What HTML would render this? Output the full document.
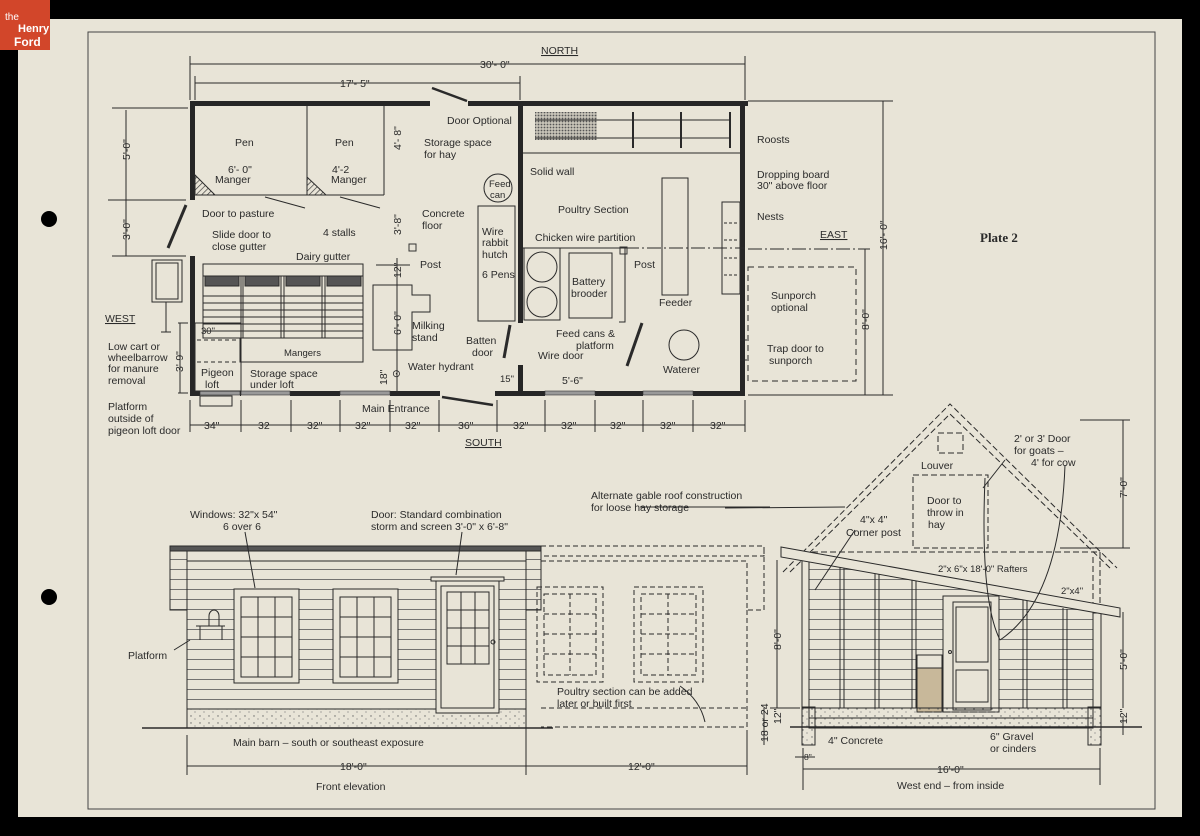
<!DOCTYPE html>
<html><head><meta charset="utf-8"><style>
html,body{margin:0;padding:0;background:#000;}
svg{display:block;}
text{font-family:"Liberation Sans",sans-serif;font-size:10.5px;fill:#2a2a2a;}
</style></head><body>
<svg width="1200" height="836" viewBox="0 0 1200 836" xmlns="http://www.w3.org/2000/svg">
<defs>
<pattern id="hat" width="4" height="4" patternUnits="userSpaceOnUse" patternTransform="rotate(45)"><line x1="0" y1="0" x2="0" y2="4" stroke="#333" stroke-width="1.3"/></pattern>
<pattern id="xh" width="3" height="3" patternUnits="userSpaceOnUse"><rect width="3" height="3" fill="#c8c4b8"/><circle cx="1.5" cy="1.5" r="0.9" fill="#555"/></pattern>
<pattern id="grav" width="9" height="7" patternUnits="userSpaceOnUse"><circle cx="2" cy="2" r="0.7" fill="#666"/><circle cx="6" cy="5" r="0.6" fill="#777"/></pattern>
<pattern id="sid" width="10" height="10" patternUnits="userSpaceOnUse"><line x1="0" y1="9.5" x2="10" y2="9.5" stroke="#555" stroke-width="0.8"/></pattern>
<clipPath id="wc"><polygon points="809,558 1093,610 1093,708 809,708"/></clipPath>
</defs>
<rect width="1200" height="836" fill="#000"/>
<rect x="18" y="19" width="1164" height="798" fill="#e8e4d7"/>
<rect x="0" y="0" width="50" height="50" fill="#d2462a"/>
<text x="5" y="20" style="fill:#fff;font-size:10px">the</text>
<text x="18" y="32" style="fill:#fff;font-size:11px;font-weight:bold">Henry</text>
<text x="14" y="46" style="fill:#fff;font-size:12px;font-weight:bold">Ford</text>
<circle cx="49" cy="219" r="8" fill="#000"/>
<circle cx="49" cy="597" r="8" fill="#000"/>
<rect x="88" y="32" width="1067" height="777" fill="none" stroke="#444" stroke-width="1"/>

<g stroke="#2a2a2a" fill="none" stroke-width="1">
<line x1="190" y1="64" x2="745" y2="64"/><line x1="190" y1="56" x2="190" y2="100"/><line x1="745" y1="56" x2="745" y2="100"/>
<line x1="195" y1="83" x2="520" y2="83"/><line x1="195" y1="76" x2="195" y2="100"/><line x1="520" y1="76" x2="520" y2="100"/>
<line x1="748" y1="101" x2="893" y2="101"/><line x1="748" y1="395" x2="893" y2="395"/>
<line x1="883" y1="101" x2="883" y2="395"/><line x1="865" y1="249" x2="865" y2="395"/>
<line x1="748" y1="249" x2="870" y2="249" stroke-dasharray="14,3,2,3"/>
<rect x="748" y="267" width="108" height="114" stroke-dasharray="6,4"/>
<line x1="112" y1="108" x2="188" y2="108"/><line x1="108" y1="200" x2="186" y2="200"/><line x1="112" y1="256" x2="186" y2="256"/>
<line x1="126" y1="110" x2="126" y2="256"/>
<line x1="178" y1="323" x2="188" y2="323"/><line x1="178" y1="393" x2="188" y2="393"/><line x1="180" y1="323" x2="180" y2="393"/>
<line x1="190" y1="425" x2="745" y2="425"/>
<g>
<line x1="190" y1="400" x2="190" y2="432"/><line x1="241" y1="400" x2="241" y2="432"/><line x1="291" y1="400" x2="291" y2="432"/><line x1="340" y1="400" x2="340" y2="432"/><line x1="390" y1="400" x2="390" y2="432"/><line x1="439" y1="400" x2="439" y2="432"/><line x1="497" y1="400" x2="497" y2="432"/><line x1="545" y1="400" x2="545" y2="432"/><line x1="595" y1="400" x2="595" y2="432"/><line x1="643" y1="400" x2="643" y2="432"/><line x1="693" y1="400" x2="693" y2="432"/><line x1="745" y1="400" x2="745" y2="432"/>
</g>
</g>

<g fill="#262626">
<rect x="190" y="101" width="240" height="5"/><rect x="468" y="101" width="280" height="5"/>
<rect x="190" y="101" width="5" height="99"/><rect x="190" y="256" width="5" height="139"/>
<rect x="740" y="101" width="5" height="294"/>
<rect x="190" y="391" width="10" height="5"/><rect x="240" y="391" width="1" height="5"/>
<rect x="290" y="391" width="50" height="5"/><rect x="390" y="391" width="50" height="5"/>
<rect x="495" y="391" width="50" height="5"/><rect x="595" y="391" width="48" height="5"/><rect x="693" y="391" width="52" height="5"/>
<rect x="518" y="101" width="5" height="222"/><rect x="518" y="365" width="5" height="30"/>
</g>
<g fill="#999" stroke="#333" stroke-width="0.6">
<rect x="200" y="391" width="40" height="4"/><rect x="241" y="391" width="49" height="4"/><rect x="340" y="391" width="50" height="4"/>
<rect x="545" y="391" width="50" height="4"/><rect x="643" y="391" width="50" height="4"/>
</g>
<g stroke="#2a2a2a" fill="none" stroke-width="1">
<line x1="432" y1="88" x2="467" y2="101" stroke-width="2.5"/>
<line x1="442" y1="397" x2="493" y2="405" stroke-width="2.5"/>
<line x1="186" y1="205" x2="168" y2="248" stroke-width="3"/>
<line x1="307" y1="106" x2="307" y2="195"/><line x1="384" y1="106" x2="384" y2="195"/>
<line x1="195" y1="195" x2="384" y2="195"/>
<polygon points="195,175 195,195 215,195" fill="url(#hat)"/>
<polygon points="307,177 307,195 326,195" fill="url(#hat)"/>
<line x1="265" y1="197" x2="305" y2="208"/><line x1="340" y1="197" x2="380" y2="208"/>
<rect x="203" y="264" width="160" height="12"/>
<rect x="203" y="276" width="38" height="62"/><rect x="243" y="276" width="38" height="62"/><rect x="284" y="276" width="38" height="62"/><rect x="325" y="276" width="38" height="62"/>
<rect x="205" y="276" width="34" height="10" fill="#555"/><rect x="245" y="276" width="34" height="10" fill="#555"/><rect x="286" y="276" width="34" height="10" fill="#555"/><rect x="327" y="276" width="34" height="10" fill="#555"/>
<path d="M203 296H363M203 303H363M203 310H363M203 317H363M203 324H363M203 331H363"/>
<rect x="240" y="338" width="123" height="24"/>
<rect x="195" y="323" width="46" height="68"/>
<line x1="197" y1="340" x2="239" y2="340" stroke-dasharray="4,3"/><line x1="197" y1="362" x2="239" y2="362" stroke-dasharray="4,3"/>
<rect x="200" y="396" width="32" height="10"/>
<rect x="152" y="260" width="30" height="42"/><rect x="156" y="263" width="22" height="36"/>
<line x1="166" y1="302" x2="166" y2="332"/><line x1="161" y1="332" x2="171" y2="332"/>
<path d="M373 285H412V295H430V312H412V350H373Z"/>
<line x1="397" y1="258" x2="397" y2="393"/>
<line x1="376" y1="265" x2="410" y2="265"/>
<circle cx="498" cy="188" r="14"/>
<rect x="478" y="206" width="37" height="115"/>
<line x1="510" y1="325" x2="504" y2="358" stroke-width="3"/>
<rect x="535" y="112" width="62" height="28" fill="url(#xh)" stroke="none"/>
<line x1="535" y1="120" x2="731" y2="120"/><line x1="535" y1="138" x2="731" y2="138"/>
<line x1="633" y1="112" x2="633" y2="148" stroke-width="2"/><line x1="681" y1="112" x2="681" y2="148" stroke-width="2"/><line x1="730" y1="112" x2="730" y2="148" stroke-width="2"/>
<line x1="523" y1="153" x2="740" y2="153"/>
<rect x="524" y="248" width="36" height="72"/>
<circle cx="542" cy="267" r="15"/><circle cx="542" cy="302" r="15"/>
<rect x="569" y="253" width="43" height="65"/>
<path d="M523 248H625V322H619"/>
<line x1="625" y1="248" x2="745" y2="248" stroke-dasharray="14,3,2,3"/>
<rect x="662" y="178" width="26" height="117"/>
<rect x="722" y="202" width="18" height="92"/>
<path d="M724 223H738M724 240H738M724 258H738M724 275H738" stroke-dasharray="3,2"/>
<circle cx="684" cy="345" r="15"/>
<line x1="642" y1="323" x2="627" y2="366" stroke-width="3"/>
<path d="M740 340H747M740 360H747"/>
</g>
<rect x="409" y="244" width="7" height="7" fill="none" stroke="#333"/>
<rect x="620" y="247" width="7" height="7" fill="none" stroke="#333"/>

<text x="541" y="54" style="text-decoration:underline">NORTH</text>
<text x="480" y="68">30'- 0"</text>
<text x="340" y="87">17'- 5"</text>
<text x="235" y="146">Pen</text><text x="335" y="146">Pen</text>
<text x="228" y="173">6'- 0"</text><text x="332" y="173">4'-2</text>
<text x="215" y="183">Manger</text><text x="331" y="183">Manger</text>
<text x="202" y="217">Door to pasture</text>
<text x="212" y="238">Slide door to</text><text x="212" y="250">close gutter</text>
<text x="323" y="236">4 stalls</text>
<text x="296" y="260">Dairy gutter</text>
<text x="447" y="124">Door Optional</text>
<text x="424" y="146">Storage space</text><text x="424" y="158">for hay</text>
<text x="422" y="217">Concrete</text><text x="422" y="229">floor</text>
<text x="420" y="268">Post</text>
<text x="489" y="187" style="font-size:9.5px">Feed</text><text x="490" y="198" style="font-size:9.5px">can</text>
<text x="482" y="235">Wire</text><text x="482" y="246">rabbit</text><text x="482" y="258">hutch</text>
<text x="482" y="278">6 Pens</text>
<text x="412" y="329">Milking</text><text x="412" y="341">stand</text>
<text x="466" y="344">Batten</text><text x="472" y="356">door</text>
<text x="408" y="370">Water hydrant</text>
<text x="392" y="377">⊙</text>
<text x="500" y="382" style="font-size:9.5px">15"</text>
<text x="530" y="175">Solid wall</text>
<text x="558" y="213">Poultry Section</text>
<text x="535" y="241">Chicken wire partition</text>
<text x="634" y="268">Post</text>
<text x="572" y="285">Battery</text><text x="571" y="297">brooder</text>
<text x="659" y="306">Feeder</text>
<text x="556" y="337">Feed cans &amp;</text><text x="576" y="349">platform</text>
<text x="538" y="359">Wire door</text>
<text x="562" y="384">5'-6"</text>
<text x="663" y="373">Waterer</text>
<text x="757" y="143">Roosts</text>
<text x="757" y="178">Dropping board</text><text x="757" y="189">30" above floor</text>
<text x="757" y="220">Nests</text>
<text x="820" y="238" style="text-decoration:underline">EAST</text>
<text x="980" y="242" style="font-family:'Liberation Serif',serif;font-weight:bold;font-size:13px">Plate 2</text>
<text x="771" y="299">Sunporch</text><text x="771" y="311">optional</text>
<text x="767" y="352">Trap door to</text><text x="769" y="364">sunporch</text>
<text x="105" y="322" style="text-decoration:underline">WEST</text>
<text x="108" y="350">Low cart or</text><text x="108" y="361">wheelbarrow</text><text x="108" y="372">for manure</text><text x="108" y="384">removal</text>
<text x="108" y="410">Platform</text><text x="108" y="422">outside of</text><text x="108" y="434">pigeon loft door</text>
<text x="201" y="334" style="font-size:9.5px">30"</text>
<text x="284" y="356" style="font-size:9.5px">Mangers</text>
<text x="201" y="376">Pigeon</text><text x="205" y="388">loft</text>
<text x="250" y="377">Storage space</text><text x="250" y="388">under loft</text>
<text x="362" y="412">Main Entrance</text>
<text x="465" y="446" style="text-decoration:underline">SOUTH</text>
<g style="font-size:9.5px">
<text x="204" y="429">34"</text><text x="258" y="429">32</text><text x="307" y="429">32"</text><text x="355" y="429">32"</text><text x="405" y="429">32"</text><text x="458" y="429">36"</text><text x="513" y="429">32"</text><text x="561" y="429">32"</text><text x="610" y="429">32"</text><text x="660" y="429">32"</text><text x="710" y="429">32"</text>
</g>
<g style="font-size:9.5px">
<text transform="translate(130,160) rotate(-90)">5'-0"</text>
<text transform="translate(130,240) rotate(-90)">3'-0"</text>
<text transform="translate(183,372) rotate(-90)">3'-9"</text>
<text transform="translate(401,150) rotate(-90)">4'- 8"</text>
<text transform="translate(401,235) rotate(-90)">3'-8"</text>
<text transform="translate(401,278) rotate(-90)">12"</text>
<text transform="translate(401,335) rotate(-90)">6'- 0"</text>
<text transform="translate(387,385) rotate(-90)">18"</text>
<text transform="translate(887,250) rotate(-90)">16'- 0"</text>
<text transform="translate(869,330) rotate(-90)">8'-0"</text>
</g>

<g stroke="#2a2a2a" fill="none" stroke-width="1">
<rect x="170" y="546" width="17" height="64" fill="url(#sid)"/>
<rect x="526" y="546" width="15" height="64" fill="url(#sid)"/>
<rect x="170" y="546" width="371" height="5" fill="#555"/>
<rect x="187" y="551" width="339" height="10"/>
<rect x="187" y="561" width="339" height="148" fill="url(#sid)"/>
<rect x="187" y="709" width="339" height="19" fill="url(#grav)"/>
<line x1="142" y1="728" x2="553" y2="728" stroke-width="1.6"/>
<rect x="234" y="589" width="65" height="94" fill="#e8e4d7"/>
<rect x="241" y="597" width="51" height="80"/>
<path d="M241 637H292M258 597V677M275 597V677M241 617H292M241 657H292"/>
<rect x="333" y="589" width="65" height="94" fill="#e8e4d7"/>
<rect x="340" y="597" width="51" height="80"/>
<path d="M340 637H391M357 597V677M374 597V677M340 617H391M340 657H391"/>
<rect x="431" y="577" width="73" height="4" fill="#e8e4d7"/>
<rect x="436" y="581" width="63" height="132" fill="#e8e4d7"/>
<rect x="441" y="586" width="53" height="122"/>
<rect x="447" y="592" width="42" height="72"/>
<path d="M461 592V664M475 592V664M447 610H489M447 628H489M447 646H489"/>
<circle cx="493" cy="642" r="2"/>
<path d="M196 626H225M200 626V640M222 626V640"/>
<path d="M209 616A5 6 0 0 1 219 616V626H209Z"/>
<g stroke-dasharray="5,3">
<rect x="541" y="546" width="223" height="10"/>
<path d="M541 561H747V610H764V546M747 610V727H541M541 708H747"/>
<rect x="537" y="587" width="66" height="95"/><rect x="544" y="594" width="52" height="81"/>
<path d="M544 634H596M570 594V675M544 614H596M544 654H596"/>
<rect x="634" y="587" width="69" height="95"/><rect x="641" y="594" width="55" height="81"/>
<path d="M641 634H696M668 594V675M641 614H696M641 654H696"/>
</g>
<line x1="187" y1="735" x2="187" y2="775"/><line x1="526" y1="728" x2="526" y2="775"/><line x1="747" y1="730" x2="747" y2="775"/>
<line x1="187" y1="766" x2="747" y2="766"/>
<line x1="190" y1="640" x2="174" y2="650"/>
<line x1="245" y1="532" x2="255" y2="588"/>
<line x1="462" y1="532" x2="456" y2="575"/>
<path d="M680 686Q700 700 705 722"/>
<line x1="640" y1="507" x2="770" y2="507"/>
</g>
<text x="190" y="518">Windows: 32"x 54"</text><text x="223" y="530">6 over 6</text>
<text x="371" y="518">Door: Standard combination</text><text x="371" y="530">storm and screen  3'-0" x 6'-8"</text>
<text x="128" y="659">Platform</text>
<text x="233" y="746">Main barn – south or southeast exposure</text>
<text x="557" y="695">Poultry section can be added</text><text x="557" y="707">later or built first</text>
<text x="591" y="499">Alternate gable roof construction</text><text x="591" y="511">for loose hay storage</text>
<text x="340" y="770">18'-0"</text>
<text x="628" y="770">12'-0"</text>
<text x="316" y="790">Front elevation</text>

<g stroke="#2a2a2a" fill="none" stroke-width="1">
<g stroke-dasharray="6,3">
<path d="M783 572L950 404L1117 568"/><path d="M790 572L950 414L1110 568"/>
<path d="M803 552H1100V605M1093 557V605"/>
<rect x="913" y="475" width="75" height="73"/>
<rect x="938" y="433" width="25" height="20"/>
</g>
<rect x="809" y="558" width="284" height="150" fill="url(#sid)" clip-path="url(#wc)" stroke="none"/>
<rect x="802" y="560" width="7" height="148"/><rect x="1093" y="613" width="8" height="95"/>
<path d="M840 566V708M844 567V708M875 573V708M879 573V708M912 580V708M916 580V708M1023 600V708M1027 601V708M1063 608V708M1067 609V708"/>
<polygon points="781,547 1120,608 1120,617 781,557" fill="#e8e4d7"/>
<rect x="943" y="596" width="56" height="116" fill="#e8e4d7"/>
<rect x="953" y="602" width="38" height="108"/>
<rect x="956" y="607" width="32" height="55"/><rect x="956" y="670" width="32" height="32"/>
<circle cx="950" cy="652" r="1.5"/>
<rect x="917" y="655" width="25" height="57" fill="#e8e4d7"/>
<rect x="917" y="668" width="25" height="44" fill="#c8b89a"/>
<rect x="809" y="708" width="284" height="20" fill="url(#grav)"/>
<line x1="809" y1="718" x2="1093" y2="718"/>
<rect x="802" y="707" width="13" height="38" fill="url(#grav)"/><rect x="1088" y="707" width="13" height="38" fill="url(#grav)"/>
<line x1="790" y1="727" x2="1142" y2="727" stroke-width="1.5"/>
<line x1="803" y1="748" x2="803" y2="790"/><line x1="1100" y1="748" x2="1100" y2="785"/>
<line x1="803" y1="769" x2="1100" y2="769"/>
<line x1="1123" y1="420" x2="1123" y2="548"/><line x1="1080" y1="420" x2="1130" y2="420"/><line x1="1060" y1="548" x2="1130" y2="548"/>
<line x1="1123" y1="612" x2="1123" y2="708"/><line x1="1123" y1="716" x2="1123" y2="735"/>
<line x1="777" y1="560" x2="777" y2="708"/><line x1="770" y1="708" x2="800" y2="708"/>
<line x1="764" y1="708" x2="764" y2="745"/>
<line x1="795" y1="757" x2="815" y2="757"/>
<path d="M1065 465Q1060 600 1000 640"/><path d="M985 478Q980 600 1000 640"/>
<path d="M855 530L815 590"/><path d="M725 508L845 507"/>
<path d="M983 488L1005 460"/>
</g>
<text x="1014" y="442">2' or 3' Door</text><text x="1014" y="454">for goats –</text><text x="1031" y="466">4' for cow</text>
<text x="921" y="469">Louver</text>
<text x="927" y="504">Door to</text><text x="927" y="516">throw in</text><text x="928" y="528">hay</text>
<text x="860" y="523">4"x 4"</text><text x="846" y="536">Corner post</text>
<text x="938" y="572" style="font-size:9.5px">2"x 6"x 18'-0" Rafters</text>
<text x="1061" y="594" style="font-size:9.5px">2"x4"</text>
<text x="828" y="744">4" Concrete</text>
<text x="990" y="740">6" Gravel</text><text x="990" y="752">or cinders</text>
<text x="804" y="760" style="font-size:8.5px">8"</text>
<text x="937" y="773">16'-0"</text>
<text x="897" y="789">West end – from inside</text>
<g style="font-size:9.5px">
<text transform="translate(1127,498) rotate(-90)">7'-0"</text>
<text transform="translate(1127,670) rotate(-90)">5'-0"</text>
<text transform="translate(1127,724) rotate(-90)">12"</text>
<text transform="translate(781,650) rotate(-90)">8'-0"</text>
<text transform="translate(781,724) rotate(-90)">12"</text>
<text transform="translate(768,742) rotate(-90)">18 or 24</text>
</g>
</svg>
</body></html>
